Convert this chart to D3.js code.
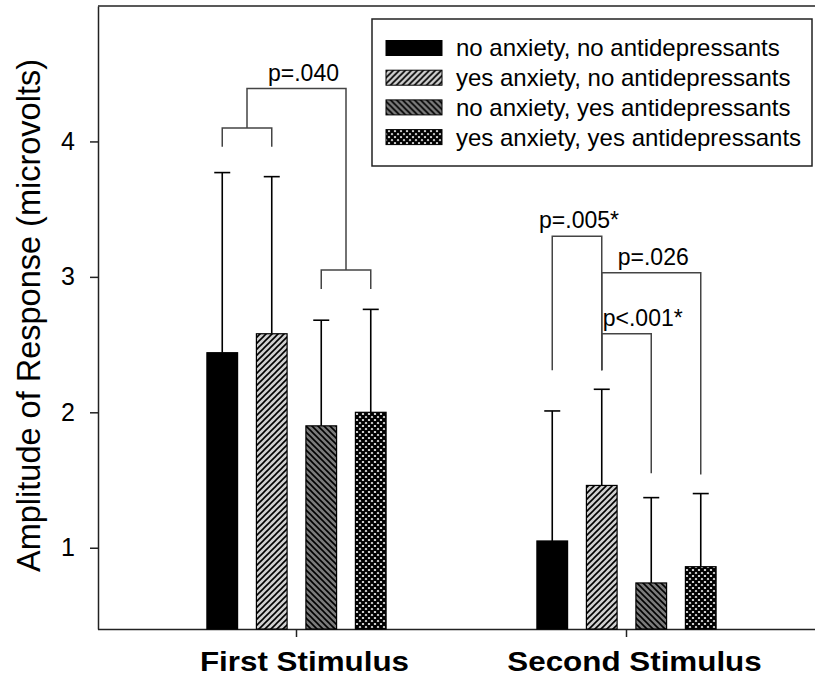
<!DOCTYPE html>
<html>
<head>
<meta charset="utf-8">
<script src="https://d3js.org/d3.v7.min.js"></script>
<style>
  body { margin: 0; background: #fff; }
  svg { display: block; font-family: "Liberation Sans", Arial, sans-serif; }
</style>
</head>
<body>
<svg id="chart" width="815" height="682"></svg>
<script>
// ---------------- data ----------------
const categories = ["First Stimulus", "Second Stimulus"];
const seriesNames = [
  "no anxiety, no antidepressants",
  "yes anxiety, no antidepressants",
  "no anxiety, yes antidepressants",
  "yes anxiety, yes antidepressants"
];
// mean amplitude per series, [first, second]
const meanNoNo   = [2.44, 1.05];
const meanYesNo  = [2.58, 1.46];
const meanNoYes  = [1.90, 0.74];
const meanYesYes = [2.00, 0.86];
// upper end of the error bar (mean + error)
const upperNoNo   = [3.77, 2.01];
const upperYesNo  = [3.74, 2.17];
const upperNoYes  = [2.68, 1.37];
const upperYesYes = [2.76, 1.40];
const yTicks = [1, 2, 3, 4];
const yDomain = [0.4, 5];

// significance brackets: group index, bars joined, bar level, legs bottom
const bracketGroup = [0, 0, 1, 1, 1];
const bracketFrom  = [0, 2, 0, 1, 1];
const bracketTo    = [1, 3, 1, 3, 2];
const bracketLevel = [4.10, 3.05, 3.30, 3.03, 2.58];
const bracketLegL  = [3.96, 2.91, 2.31, 2.31, 2.31];
const bracketLegR  = [3.96, 2.91, 2.31, 1.54, 1.55];
const bracketLabel = ["", "", "p=.005*", "p=.026", "p<.001*"];
// bracket over the first two brackets of the first stimulus
const topBracketLevel = 4.39;
const topBracketLabel = "p=.040";

const means = [meanNoNo, meanYesNo, meanNoYes, meanYesYes];
const uppers = [upperNoNo, upperYesNo, upperNoYes, upperYesYes];

// ---------------- layout ----------------
const svg = d3.select("#chart");
const pL = 98, pR = 815, pT = 6, pB = 629;

const y = d3.scaleLinear().domain(yDomain).range([pB, pT]);
const x0 = d3.scaleBand().domain(categories).range([131.5, 791.5]).padding(0);
const x1 = d3.scaleBand().domain(d3.range(4)).range([-99, 99])
  .paddingInner(0.38).paddingOuter(0.19);
const cx = (g, s) => x0(categories[g]) + x0.bandwidth() / 2 + x1(s) + x1.bandwidth() / 2;

// ---------------- patterns ----------------
const defs = svg.append("defs");
function hatch(id, bg, dir, size, sw) {
  const p = defs.append("pattern").attr("id", id)
    .attr("patternUnits", "userSpaceOnUse").attr("width", size).attr("height", size);
  p.append("rect").attr("width", size).attr("height", size).attr("fill", bg);
  const s = size;
  const d = dir === "/"
    ? `M0,${s} L${s},0 M${-s/2},${s/2} L${s/2},${-s/2} M${s/2},${s*1.5} L${s*1.5},${s/2}`
    : `M0,0 L${s},${s} M${-s/2},${s/2} L${s/2},${s*1.5} M${s/2},${-s/2} L${s*1.5},${s/2}`;
  p.append("path").attr("d", d).attr("stroke", "#000").attr("stroke-width", sw);
}
hatch("pat1", "#cfcfcf", "/", 6, 1.6);
hatch("pat2", "#7a7a7a", "\\", 6, 1.6);
{
  const s = 6;
  const p = defs.append("pattern").attr("id", "pat3")
    .attr("patternUnits", "userSpaceOnUse").attr("width", s).attr("height", s);
  p.append("rect").attr("width", s).attr("height", s).attr("fill", "#fff");
  p.append("path")
    .attr("d", `M0,${s} L${s},0 M${-s/2},${s/2} L${s/2},${-s/2} M${s/2},${s*1.5} L${s*1.5},${s/2} M0,0 L${s},${s} M${-s/2},${s/2} L${s/2},${s*1.5} M${s/2},${-s/2} L${s*1.5},${s/2}`)
    .attr("stroke", "#000").attr("stroke-width", 2.3);
}
const fills = ["#000", "url(#pat1)", "url(#pat2)", "url(#pat3)"];

// ---------------- frame & axes ----------------
svg.append("line").attr("x1", pL).attr("x2", pR).attr("y1", pT).attr("y2", pT)
  .attr("stroke", "#222").attr("stroke-width", 1.5);

const yAxis = svg.append("g").attr("transform", `translate(${pL},0)`)
  .call(d3.axisLeft(y).tickValues(yTicks).tickFormat(d3.format("d"))
    .tickSize(8).tickSizeOuter(0).tickPadding(15));
yAxis.selectAll("text").attr("font-size", 25).attr("fill", "#000")
  .style("font-family", "'Liberation Sans', Arial, sans-serif");
yAxis.selectAll("line, path").attr("stroke", "#222").attr("stroke-width", 1.5);

const xAxis = svg.append("g").attr("transform", `translate(0,${pB})`)
  .call(d3.axisBottom(x0).tickSize(8).tickSizeOuter(0).tickPadding(14));
xAxis.select(".domain").attr("d", `M${pL},0.5H${pR}`);
xAxis.selectAll("line, path").attr("stroke", "#222").attr("stroke-width", 1.5);
xAxis.selectAll("text").attr("font-size", 28).attr("font-weight", "bold").attr("fill", "#000")
  .attr("dx", 8)
  .style("font-family", "'Liberation Sans', Arial, sans-serif")
  .each(function () {
    const w = this.getComputedTextLength();
    d3.select(this).attr("textLength", w * 1.12).attr("lengthAdjust", "spacingAndGlyphs");
  });

svg.append("text")
  .attr("transform", `translate(40,${(pT + pB) / 2 - 2}) rotate(-90)`)
  .attr("text-anchor", "middle").attr("font-size", 32.5).attr("fill", "#000")
  .text("Amplitude of Response (microvolts)");

// ---------------- bars & error bars ----------------
const barData = [];
means.forEach((arr, s) => arr.forEach((v, g) => barData.push({ s, g, v, up: uppers[s][g] })));

const errs = svg.append("g");
errs.selectAll("line.err").data(barData).join("line").attr("class", "err")
  .attr("x1", d => cx(d.g, d.s)).attr("x2", d => cx(d.g, d.s))
  .attr("y1", d => y(d.v)).attr("y2", d => y(d.up))
  .attr("stroke", "#000").attr("stroke-width", 1.6);
errs.selectAll("line.cap").data(barData).join("line").attr("class", "cap")
  .attr("x1", d => cx(d.g, d.s) - 8).attr("x2", d => cx(d.g, d.s) + 8)
  .attr("y1", d => y(d.up)).attr("y2", d => y(d.up))
  .attr("stroke", "#000").attr("stroke-width", 1.6);

svg.append("g").selectAll("rect").data(barData).join("rect")
  .attr("x", d => cx(d.g, d.s) - x1.bandwidth() / 2)
  .attr("width", x1.bandwidth())
  .attr("y", d => y(d.v))
  .attr("height", d => pB - y(d.v))
  .attr("fill", d => fills[d.s])
  .attr("stroke", "#000").attr("stroke-width", 1.2);

// ---------------- significance brackets ----------------
const br = svg.append("g").attr("stroke", "#444").attr("stroke-width", 1.5).attr("fill", "none");
const lblG = svg.append("g").attr("font-size", 23).attr("fill", "#000");
bracketGroup.forEach((g, i) => {
  const xa = cx(g, bracketFrom[i]), xb = cx(g, bracketTo[i]);
  const yl = y(bracketLevel[i]);
  br.append("path").attr("d",
    `M${xa},${y(bracketLegL[i])} V${yl} H${xb} V${y(bracketLegR[i])}`);
  if (bracketLabel[i]) {
    const startAligned = g === 1 && bracketFrom[i] === 1 && bracketTo[i] === 2;
    lblG.append("text")
      .attr("x", startAligned ? xa + 1 : (xa + xb) / 2 + 2)
      .attr("y", yl - 8)
      .attr("text-anchor", startAligned ? "start" : "middle")
      .text(bracketLabel[i]);
  }
});
{
  const xa = (cx(0, bracketFrom[0]) + cx(0, bracketTo[0])) / 2;
  const xb = (cx(0, bracketFrom[1]) + cx(0, bracketTo[1])) / 2;
  const yl = y(topBracketLevel);
  br.append("path").attr("d",
    `M${xa},${y(bracketLevel[0])} V${yl} H${xb} V${y(bracketLevel[1])}`);
  lblG.append("text").attr("x", (xa + xb) / 2 + 7).attr("y", yl - 8)
    .attr("text-anchor", "middle").text(topBracketLabel);
}

// ---------------- legend ----------------
const lg = svg.append("g");
lg.append("rect").attr("x", 372).attr("y", 19).attr("width", 440).attr("height", 147)
  .attr("fill", "#fff").attr("stroke", "#222").attr("stroke-width", 1.5);
const rows = lg.selectAll("g.row").data(seriesNames).join("g").attr("class", "row")
  .attr("transform", (d, i) => `translate(386,${48 + i * 29.7})`);
rows.append("rect").attr("x", 0).attr("y", -7.5).attr("width", 56).attr("height", 15)
  .attr("fill", (d, i) => fills[i]).attr("stroke", "#000").attr("stroke-width", 1);
rows.append("text").attr("x", 70).attr("y", 0).attr("dy", "0.35em")
  .attr("font-size", 24).attr("fill", "#000").text(d => d);
</script>
</body>
</html>
